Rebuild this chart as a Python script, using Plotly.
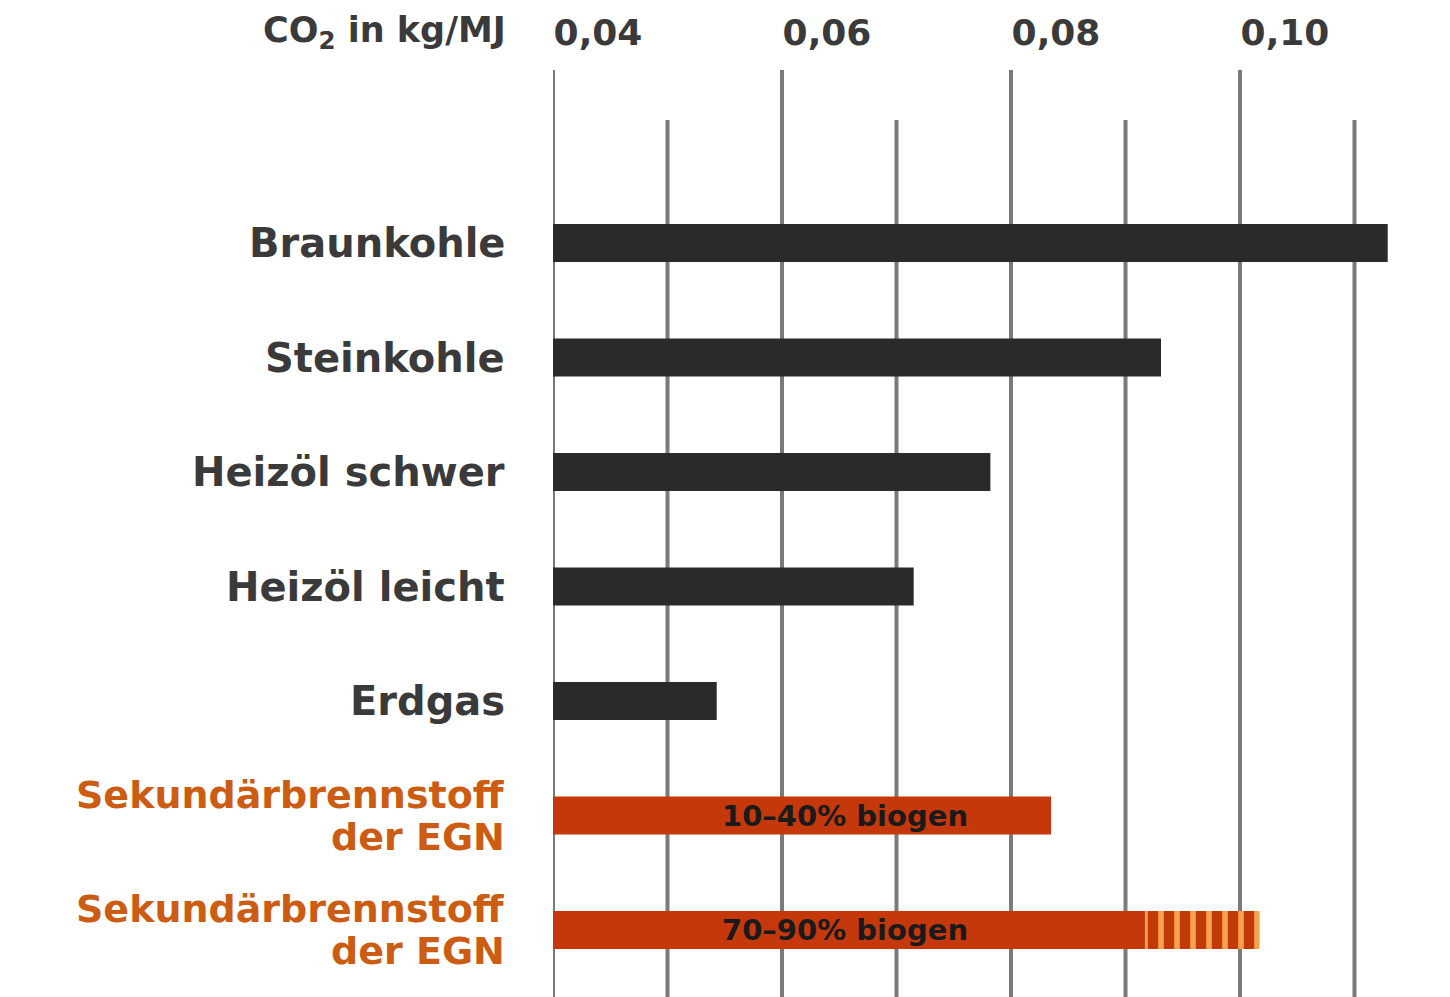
import plotly.graph_objects as go

# ---- data ----
categories = ["Braunkohle", "Steinkohle", "Heizöl schwer", "Heizöl leicht", "Erdgas",
              "Sekundärbrennstoff<br>der EGN", "Sekundärbrennstoff<br>der EGN"]
co2_values = [0.1129, 0.0931, 0.0782, 0.0715, 0.0543, 0.0835, 0.0917]
range_upper = [None, None, None, None, None, None, 0.1017]   # hatched range extension
bar_notes = ["", "", "", "", "", "10–40% biogen", "70–90% biogen"]
is_secondary = [False, False, False, False, False, True, True]
axis_base = 0.04
major_ticks = [0.04, 0.06, 0.08, 0.10]
major_labels = ["0,04", "0,06", "0,08", "0,10"]
minor_ticks = [0.05, 0.07, 0.09, 0.11]
axis_title = "CO<sub>2</sub> in kg/MJ"

# ---- styling ----
OFF = 8  # page body margin
W, H = 1450 - OFF, 997 - OFF
ML, MR, MT, MB = 553 - OFF, 22, 70 - OFF, 0
PX_PER_UNIT = 11450.0
DARK = "#2a2a2a"
ORANGE = "#c4380c"
ORANGE_TXT = "#cc5c12"
LIGHT_ORANGE = "#f6a24e"
GRID = "#7a7a7a"
TXT = "#3a3a3a"
FONT = "DejaVu Sans"
LINE_GAP = 42  # px between lines of two-line labels

plot_w = W - ML - MR
plot_h = H - MT - MB
x_range = [axis_base, axis_base + plot_w / PX_PER_UNIT]
row_px = 114.5
first_center = 243 - OFF
y_top = -(first_center - MT) / row_px
y_bot = y_top + plot_h / row_px

idx = list(range(len(categories)))

fig = go.Figure()

# main bars
fig.add_trace(go.Bar(
    y=idx,
    x=[v - axis_base for v in co2_values],
    base=[axis_base] * len(co2_values),
    orientation="h",
    width=0.33,
    marker=dict(color=[ORANGE if s else DARK for s in is_secondary], line=dict(width=0)),
    hoverinfo="skip",
    showlegend=False,
))

# hatched extension
ext_y = [i for i, u in zip(idx, range_upper) if u is not None]
ext_base = [co2_values[i] for i in ext_y]
ext_len = [range_upper[i] - co2_values[i] for i in ext_y]
fig.add_trace(go.Bar(
    y=ext_y, x=ext_len, base=ext_base, orientation="h", width=0.33,
    marker=dict(color=LIGHT_ORANGE, line=dict(width=0),
                pattern=dict(shape="|", fgcolor="#c23a08", bgcolor=LIGHT_ORANGE,
                             size=16, solidity=0.65, fillmode="replace")),
    hoverinfo="skip", showlegend=False,
))

# gridlines (below traces)
shapes = []
for t in major_ticks:
    shapes.append(dict(type="line", xref="x", yref="paper", x0=t, x1=t, y0=0, y1=1,
                       line=dict(color=GRID, width=4), layer="below"))
minor_top = (H - MB - (120 - OFF)) / plot_h
for t in minor_ticks:
    shapes.append(dict(type="line", xref="x", yref="paper", x0=t, x1=t, y0=0, y1=minor_top,
                       line=dict(color=GRID, width=4), layer="below"))

annotations = []
for i, note in zip(idx, bar_notes):
    if note:
        annotations.append(dict(x=0.0655, y=i, xref="x", yref="y", text=f"<b>{note}</b>",
                                showarrow=False, font=dict(family=FONT, size=29, color="#1a1a1a")))
for i, (cat, sec) in enumerate(zip(categories, is_secondary)):
    lines = cat.split("<br>")
    n = len(lines)
    for k, line in enumerate(lines):
        dy = (k - (n - 1) / 2) * LINE_GAP / row_px
        annotations.append(dict(x=-46 / plot_w, y=i + dy, xref="paper", yref="y", xanchor="right",
                                yanchor="middle", align="right", text=f"<b>{line}</b>",
                                showarrow=False,
                                font=dict(family=FONT, size=38 if n > 1 else 40,
                                          color=ORANGE_TXT if sec else TXT)))
annotations.append(dict(x=-45 / plot_w, y=1 + 37 / plot_h, xref="paper", yref="paper",
                        xanchor="right", yanchor="middle", text=f"<b>{axis_title}</b>",
                        showarrow=False, font=dict(family=FONT, size=35, color=TXT)))

fig.update_layout(
    width=W, height=H,
    margin=dict(l=ML, r=MR, t=MT, b=MB, autoexpand=False),
    plot_bgcolor="white", paper_bgcolor="white",
    barmode="overlay",
    shapes=shapes,
    annotations=annotations,
    xaxis=dict(side="top", range=x_range, tickvals=major_ticks, ticktext=major_labels,
               showgrid=False, zeroline=False, showline=False, ticks="",
               ticklabelstandoff=17, ticklabelshift=45,
               tickfont=dict(family=FONT, size=36, color=TXT, weight="bold")),
    yaxis=dict(range=[y_bot, y_top], showticklabels=False, showgrid=False,
               zeroline=False, showline=False, ticks=""),
)

fig.write_html("out.html")
